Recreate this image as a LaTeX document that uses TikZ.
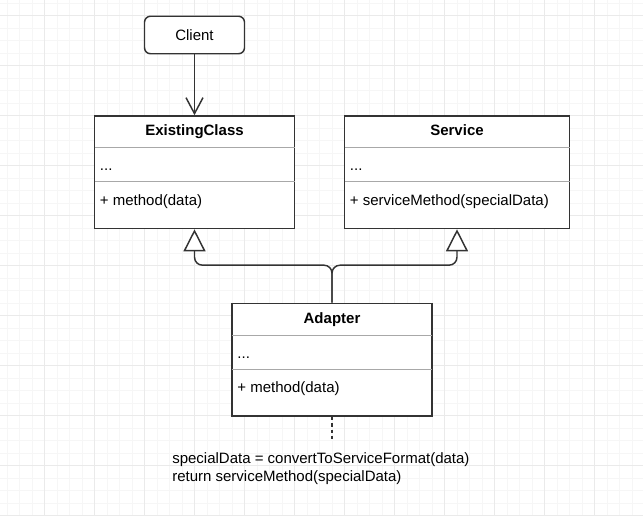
\documentclass[tikz,border=0pt]{standalone}
\usepackage{fontspec}
\setmainfont{Liberation Sans}
\usetikzlibrary{arrows.meta}
\definecolor{gridminor}{HTML}{F6F6F6}
\definecolor{gridmajor}{HTML}{EAEAEA}
\definecolor{strokec}{HTML}{333333}
\definecolor{sepc}{HTML}{A8A8A8}
\begin{document}
\begin{tikzpicture}[x=0.75pt,y=-0.75pt,
  every node/.style={font=\fontsize{11.25pt}{13.5pt}\selectfont},
  cls/.style={draw=strokec, line width=1.2pt, fill=white, minimum height=84.375pt, inner sep=0pt},
  clientbox/.style={draw=strokec, line width=1.1pt, fill=white, rounded corners=4.5pt, minimum width=75pt, minimum height=28.125pt, inner sep=0pt},
  title/.style={anchor=base, inner sep=0pt, font=\fontsize{11.25pt}{13.5pt}\selectfont\bfseries},
  member/.style={anchor=base west, inner sep=0pt},
  sepline/.style={draw=sepc, line width=0.8pt},
  conn/.style={draw=strokec, line width=1.1pt},
  gen/.style={conn, rounded corners=6pt, -{Triangle[open, length=16.5pt, width=16.5pt, fill=white, line width=1.1pt]}},
  assoc/.style={conn, -{Straight Barb[length=12pt, width=12.75pt, line width=1.1pt]}},
  minorline/.style={draw=gridminor, line width=0.75pt},
  majorline/.style={draw=gridmajor, line width=0.75pt}]
\useasboundingbox (0,0) rectangle (643,516);
\fill[white] (0,0) rectangle (643,516);
% grid
\foreach \i in {0,...,51} \draw[minorline] ({7+12.5*\i},0) -- ({7+12.5*\i},516);
\foreach \i in {0,...,41} \draw[minorline] (0,{3.5+12.5*\i}) -- (643,{3.5+12.5*\i});
\foreach \i in {0,...,11} \draw[majorline] ({44.5+50*\i},0) -- ({44.5+50*\i},516);
\foreach \i in {0,...,10} \draw[majorline] (0,{16+50*\i}) -- (643,{16+50*\i});

% client
\node[clientbox] (client) at (194.5,35) {};
\node[anchor=base, inner sep=0pt] (clientT) at (194.5,40.5) {Client};

% classes
\node[cls, minimum width=150pt] (existing) at (194.5,172.25) {};
\node[cls, minimum width=168.75pt] (service) at (457,172.25) {};
\node[cls, minimum width=150pt] (adapter) at (332,359.75) {};

\foreach \c/\t/\m in {existing/ExistingClass/{+ method(data)}, service/Service/{+ serviceMethod(specialData)}, adapter/Adapter/{+ method(data)}} {
  \draw[sepline] ([yshift=-24.375pt,xshift=0.6pt]\c.north west) -- ([yshift=-24.375pt,xshift=-0.6pt]\c.north east);
  \draw[sepline] ([yshift=-50pt,xshift=0.6pt]\c.north west) -- ([yshift=-50pt,xshift=-0.6pt]\c.north east);
  \node[title] (\c T) at ([yshift=-15.3pt]\c.north) {\t};
  \node[member] (\c A) at ([xshift=4.5pt,yshift=-41.5pt]\c.north west) {...};
  \node[member] (\c M) at ([xshift=4.5pt,yshift=-67.5pt]\c.north west) {\m};
}

% connectors
\draw[assoc] (client) -- (existing);
\draw[gen] (adapter.north) -- ++(0,-37.5) -| (existing.south);
\draw[gen] (adapter.north) -- ++(0,-37.5) -| (service.south);

% note
\coordinate (noteend) at (332,441);
\draw[conn, dashed, dash pattern=on 2.6pt off 2.2pt] (adapter.south) -- (noteend);
\node[anchor=base west, align=left, inner sep=0pt] (note) at (172,482) {specialData = convertToServiceFormat(data)\\return serviceMethod(specialData)};
\end{tikzpicture}
\end{document}
